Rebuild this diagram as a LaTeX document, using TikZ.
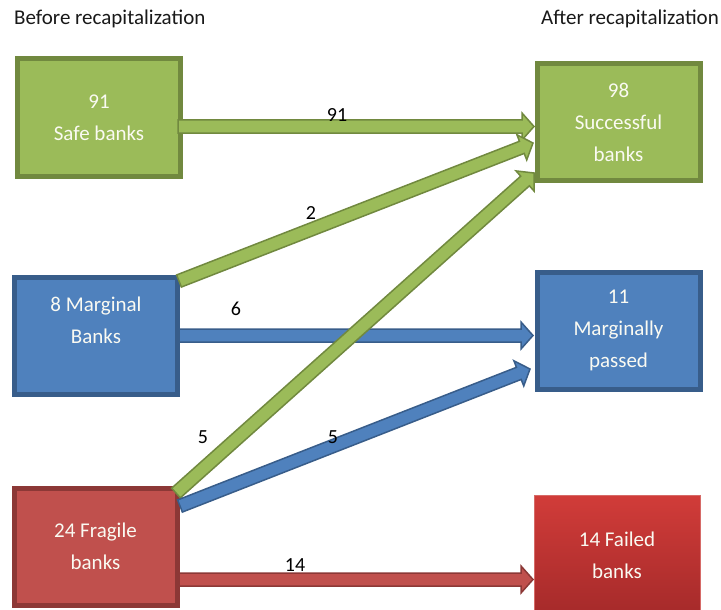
\documentclass[tikz,border=0pt]{standalone}
\usepackage{fontspec}
\setmainfont{Carlito}
\usetikzlibrary{calc}
\definecolor{gfill}{HTML}{9BBB59}
\definecolor{gline}{HTML}{71893F}
\definecolor{bfill}{HTML}{4F81BD}
\definecolor{bline}{HTML}{385D8A}
\definecolor{rfill}{HTML}{C0504D}
\definecolor{rline}{HTML}{8C3836}
\definecolor{ftop}{HTML}{D13C39}
\definecolor{fbot}{HTML}{A52A2A}
\definecolor{fline}{HTML}{D66A67}
\definecolor{txtw}{HTML}{FAFAF2}
\newcommand\arrSW{6.5pt}
\newcommand\arrHW{13.5pt}
\newcommand\arrHL{12pt}
\newcommand\blockarrow[3]{%
  \coordinate (#2-#3-h) at ($(#3)!\arrHL!(#2)$);
  \draw[#1] ($(#2)!\arrSW!90:(#3)$) -- ($(#2-#3-h)!\arrSW!-90:(#2)$)
    -- ($(#2-#3-h)!\arrHW!-90:(#2)$) -- (#3)
    -- ($(#2-#3-h)!\arrHW!90:(#2)$) -- ($(#2-#3-h)!\arrSW!90:(#2)$)
    -- ($(#2)!\arrSW!-90:(#3)$) -- cycle;}
\tikzset{
  box/.style={rectangle, line width=5pt, minimum width=163pt, minimum height=117pt,
    align=center, text=txtw, font=\fontsize{21}{32}\selectfont, inner sep=0pt},
  gbox/.style={box, draw=gline, fill=gfill},
  bbox/.style={box, draw=bline, fill=bfill},
  rbox/.style={box, draw=rline, fill=rfill},
  arr/.style={line width=1.5pt, line join=miter},
  garrow/.style={arr, draw=gline, fill=gfill},
  barrow/.style={arr, draw=bline, fill=bfill},
  rarrow/.style={arr, draw=rline, fill=rfill},
  lab/.style={font=\fontsize{20}{24}\selectfont, text=black, inner sep=0pt},
  ttl/.style={font=\fontsize{21}{26}\selectfont, text=black!90, inner sep=0pt}
}
\begin{document}
\begin{tikzpicture}[x=1pt,y=-1pt]
\useasboundingbox (0,0) rectangle (721,610);
\fill[white] (0,0) rectangle (721,610);
% titles
\node[ttl, anchor=base west] (before) at (14,25) {Before recapitalization};
\node[ttl, anchor=base east] (after) at (719,25) {After recapitalization};
% boxes
\node[gbox] (safe) at (99,117.5) {91\\Safe banks};
\node[gbox] (succ) at (618.5,122) {98\\Successful\\banks};
\node[bbox] (marg) at (96,336) {8 Marginal\\Banks\\\phantom{B}};
\node[bbox] (mpass) at (618.5,330.5) {11\\Marginally\\passed};
\node[rbox] (frag) at (95.5,546.5) {24 Fragile\\banks};
\node[box, draw=fline, line width=0.8pt, top color=ftop, bottom color=fbot,
  minimum width=166pt, minimum height=121pt] (fail) at (617,555.5) {14 Failed\\banks};
% arrow end points
\coordinate (s1) at (178,126.5);  \coordinate (e1) at (534,126.5);
\coordinate (s2) at (179,281);    \coordinate (e2) at (533,143);
\coordinate (s3) at (179,335.5);  \coordinate (e3) at (533,335.5);
\coordinate (s4) at (176,493);    \coordinate (e4) at (534,173);
\coordinate (s5) at (180,506);    \coordinate (e5) at (530,369);
\coordinate (s6) at (179,579.5);  \coordinate (e6) at (533,579.5);
% arrows
\blockarrow{garrow}{s1}{e1}
\blockarrow{garrow}{s2}{e2}
\blockarrow{barrow}{s3}{e3}
\blockarrow{garrow}{s4}{e4}
\blockarrow{barrow}{s5}{e5}
\blockarrow{rarrow}{s6}{e6}
% labels
\node[lab] (l91) at (337,115) {91};
\node[lab] (l2) at (311,213) {2};
\node[lab] (l6) at (236,309) {6};
\node[lab] (l5g) at (203,437) {5};
\node[lab] (l5b) at (333,437) {5};
\node[lab] (l14) at (295,565) {14};
\end{tikzpicture}
\end{document}
